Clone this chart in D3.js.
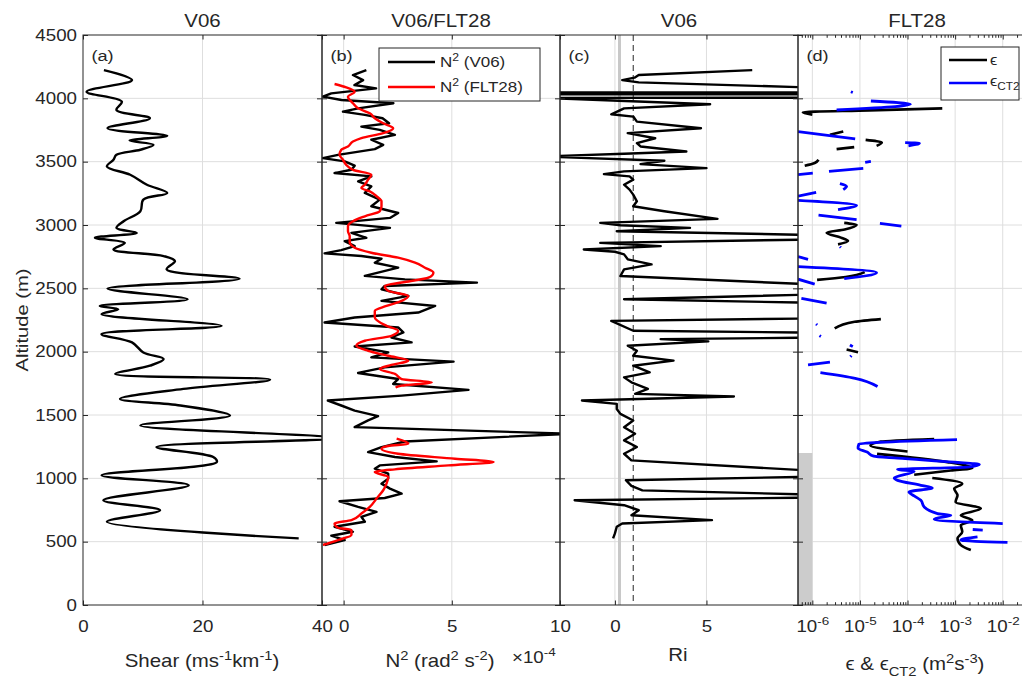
<!DOCTYPE html>
<html>
<head>
<meta charset="utf-8">
<script src="https://cdn.jsdelivr.net/npm/d3@7"></script>
<style>
  body { margin: 0; background: #fff; }
  svg { display: block; }
  text { font-family: "Liberation Sans", Arial, sans-serif; fill: #262626; }
</style>
</head>
<body>
<div id="chart"></div>
<script>
// altitude ticks (m)
const altTicks = [0, 500, 1000, 1500, 2000, 2500, 3000, 3500, 4000, 4500];

// (a) shear, [altitude m, ms-1 km-1]
const shear = [[4223,3.5],[4144,8.2],[4052,0.6],[3974,6.5],[3908,5.6],[3843,11.2],[3764,4.1],[3704,14.1],[3667,7.8],[3633,11.8],[3594,9.6],[3554,5.6],[3515,5.1],[3462,4.0],[3397,7.9],[3318,10.7],[3253,14.1],[3200,10.1],[3109,9.6],[3030,6.8],[2977,5.6],[2938,9.0],[2899,2.0],[2859,7.0],[2807,5.1],[2755,13.5],[2715,15.4],[2650,14.0],[2576,26.2],[2498,4.1],[2414,17.5],[2361,2.8],[2335,5.9],[2296,3.1],[2204,23.2],[2138,3.1],[2073,8.2],[1994,10.1],[1942,13.5],[1889,11.2],[1824,5.4],[1779,31.3],[1706,16.8],[1627,6.2],[1575,16.3],[1496,24.6],[1417,9.6],[1318,42],[1247,12.3],[1168,21.8],[1129,22.4],[1024,3.1],[945,17.7],[827,3.4],[748,12.9],[657,4.0],[526,36.1]];

// (b) N^2 in units of 1e-4 rad2 s-2
const n2V06 = [[4223,1.05],[4184,0.43],[4144,0.9],[4105,0.5],[4079,1.5],[4039,-0.57],[4013,-0.96],[3987,-0.1],[3961,2.3],[3921,0.67],[3895,-0.03],[3869,0.98],[3843,1.8],[3803,2.1],[3777,0.82],[3751,1.67],[3712,2.37],[3673,1.28],[3633,1.83],[3599,1.44],[3554,-0.26],[3528,-0.96],[3502,0.05],[3468,0.51],[3436,0.36],[3410,-0.42],[3384,1.28],[3345,0.67],[3305,1.28],[3253,0.98],[3200,1.67],[3148,1.28],[3095,2.52],[3056,2.14],[3017,-0.34],[2977,2.14],[2938,0.36],[2899,1.05],[2873,0.05],[2833,0.51],[2802,-0.11],[2776,-0.88],[2755,0.82],[2734,1.75],[2702,1.44],[2663,2.52],[2624,1.59],[2598,0.98],[2571,2.83],[2545,6.16],[2519,1.9],[2493,1.75],[2440,2.99],[2401,1.75],[2361,4.23],[2309,3.45],[2270,0.51],[2230,-0.88],[2191,2.52],[2152,2.76],[2112,2.21],[2073,3.14],[2041,0.51],[1994,2.06],[1955,1.28],[1921,5.08],[1876,1.9],[1832,0.67],[1784,2.52],[1745,2.29],[1698,5.77],[1653,2.68],[1614,-0.73],[1575,-0.11],[1535,0.51],[1491,1.59],[1457,1.13],[1404,0.51],[1352,10.5],[1291,2.83],[1247,1.75],[1207,1.13],[1168,2.37],[1134,4.3],[1102,1.67],[1076,1.44],[1037,2.06],[998,2.06],[958,1.75],[919,2.14],[879,2.68],[845,1.9],[819,-0.19],[774,0.67],[735,1.52],[696,0.82],[657,0.98],[618,-0.42],[578,0.43],[547,-0.57],[513,0.05],[474,-0.88]];
const n2Flt28 = [[4113,-0.42],[4087,0.12],[4052,0.51],[4013,0.2],[3961,0.43],[3921,0.67],[3882,1.21],[3843,1.44],[3803,1.83],[3764,2.29],[3725,1.83],[3686,0.82],[3659,0.43],[3620,0.2],[3594,-0.11],[3554,-0.19],[3515,-0.03],[3475,0.12],[3436,0.43],[3397,1.28],[3358,1.13],[3318,0.98],[3292,0.82],[3266,1.21],[3227,1.52],[3187,1.75],[3148,1.75],[3109,1.67],[3069,0.98],[3030,0.43],[2991,0.2],[2951,0.2],[2912,0.28],[2865,0.28],[2820,0.51],[2781,1.28],[2742,2.52],[2702,3.3],[2663,3.76],[2624,4.15],[2584,3.92],[2550,2.83],[2519,1.9],[2480,2.06],[2440,2.99],[2401,2.68],[2361,1.98],[2322,1.44],[2270,1.44],[2204,1.98],[2165,2.52],[2125,2.21],[2086,0.98],[2047,0.59],[2007,1.13],[1968,2.06],[1929,2.99],[1895,2.21],[1863,1.67],[1824,2.37],[1784,2.68],[1758,4.07],[1732,2.68],[1717,2.4],
  null,
  [1313,2.45],[1273,2.99],[1255,2.06],[1234,1.75],[1194,2.52],[1155,5.15],[1129,6.93],[1102,4.84],[1071,2.37],[1050,1.44],[1011,2.06],[958,1.98],[906,1.83],[840,1.52],[774,1.21],[722,0.82],[670,0.36],[644,-0.42],[610,-0.26],[592,0.36],[552,0.36],[513,-0.26],[474,-0.96]];

// (c) Richardson number
const ri = [[4223,7.5],[4184,1.3],[4163,1.07],[4144,0.4],[4126,1.3],[4080,12],[4047,300],[4045,-300],[4033,-300],[4031,300],[4006,300],[4004,-4],[3953,5.2],[3921,0.5],[3874,-0.2],[3856,1.0],[3816,1.2],[3764,4.7],[3725,0.7],[3685,2.2],[3646,1.2],[3620,1.4],[3580,3.9],[3562,0.5],[3541,-4],[3507,2.7],[3481,1.4],[3449,5.0],[3423,0.5],[3402,-0.6],[3384,0.8],[3358,1.0],[3318,0.5],[3279,0.8],[3240,1.0],[3187,1.2],[3148,1.0],[3109,2.7],[3048,5.6],[3017,-0.8],[2998,0.3],[2977,4.1],[2951,0.1],[2912,14],[2893,14],[2859,-0.8],[2833,2.5],[2807,-1.7],[2789,0],[2768,0.5],[2729,0.7],[2689,2.0],[2650,0.5],[2597,0.3],[2505,15],[2466,15],[2414,0.5],[2374,15],[2270,15],[2243,-0.2],[2165,1.0],[2144,15],[2117,15],[2099,2.5],[2081,5.1],[2047,0.7],[2007,1.2],[1968,1.0],[1929,3.2],[1889,1.0],[1837,1.9],[1797,0.5],[1758,0.9],[1706,1.8],[1667,1.1],[1646,6.5],[1614,-1.8],[1588,0.1],[1548,0.1],[1509,0.3],[1457,1.0],[1404,0.5],[1352,1.1],[1300,0.5],[1247,1.2],[1194,0.5],[1142,0.9],[1050,12],[1016,12],[985,0.6],[940,0.9],[905,1.5],[867,12],[850,12],[827,-2.2],[788,0.5],[748,1.3],[709,0.9],[670,5.3],[644,0.4],[618,0.1],[565,0],[526,-0.1]];
const riCrit = 0.25, riOne = 1;

// (d) log10 of dissipation rate (m2 s-3), null = gap
const epsLog = [[3921,-3.27],[3905,-4.8],[3890,-6.2],[3870,-6.0],null,
  [3738,-5.35],[3712,-5.63],null,
  [3672,-4.88],[3651,-4.54],[3625,-4.65],null,
  [3615,-5.12],[3599,-5.49],null,
  [3515,-5.87],[3490,-5.95],[3468,-6.16],null,
  [3017,-5.33],[3000,-5.07],[2965,-5.32],[2939,-5.7],[2900,-5.4],[2873,-5.25],[2847,-5.46],null,
  [2628,-4.9],[2590,-5.3],[2567,-5.9],null,
  [2257,-4.56],[2236,-5.11],[2184,-5.53],null,
  [2017,-5.28],[1996,-5.04],null,
  [1311,-3.44],[1290,-4.56],[1259,-4.78],[1212,-4.0],null,
  [1193,-4.64],[1128,-3.16],[1081,-2.64],[1062,-3.09],[1028,-3.86],null,
  [1002,-3.48],[958,-2.85],[919,-3.02],[866,-2.95],[814,-2.99],[761,-2.46],[709,-2.88],[669,-2.64],[630,-2.88],[578,-2.85],[525,-2.95],[473,-2.88],[434,-2.67]];
const epsCt2Log = [[4052,-5.19],[4046,-5.15],null,
  [3979,-4.77],[3953,-3.94],[3934,-4.26],[3908,-5.49],null,
  [3738,-6.3],[3680,-5.1],null,
  [3651,-4.05],[3646,-3.75],[3625,-3.98],null,
  [3502,-4.77],[3494,-4.89],null,
  [3447,-4.93],[3424,-5.65],null,
  [3410,-5.99],[3397,-6.3],null,
  [3327,-5.42],[3305,-5.28],[3279,-5.35],null,
  [3258,-5.92],[3227,-6.3],null,
  [3195,-6.3],[3156,-5.07],[3122,-5.46],null,
  [3078,-5.87],[3043,-5.07],null,
  [3012,-4.58],[2991,-4.13],null,
  [2829,-5.42],[2822,-5.4],null,
  [2750,-6.3],[2729,-6.09],null,
  [2671,-6.3],[2624,-4.65],[2577,-5.33],null,
  [2572,-6.3],[2533,-5.95],null,
  [2420,-6.23],[2383,-5.7],null,
  [2218,-5.92],[2211,-5.9],null,
  [2127,-5.85],[2120,-5.82],null,
  [2053,-5.21],[2040,-5.15],null,
  [1969,-5.18],[1960,-5.2],null,
  [1917,-5.63],[1896,-6.09],null,
  [1834,-5.83],[1789,-5.1],[1725,-4.63],null,
  [1306,-2.96],[1285,-4.56],[1272,-5.02],[1238,-5.04],[1207,-4.85],[1175,-4.71],[1159,-4.21],[1128,-3.02],[1110,-2.49],[1089,-2.74],[1070,-4.21],[1055,-3.86],[1002,-4.28],[984,-4.21],[945,-3.72],[924,-3.48],[892,-3.97],[861,-3.86],[827,-3.72],[774,-3.65],[722,-3.37],[709,-3.09],[677,-3.44],[643,-2.0],null,
  [596,-2.63],[591,-2.42],null,
  [538,-2.53],[512,-2.88],[494,-1.9]];
const noDataTop = 1200; // grey block in (d)

const W = 1022, H = 679;
const SX = 1.17; // figure text is rendered wider than Arial
const plotTop = 35, plotBottom = 605;

const svg = d3.select("#chart").append("svg").attr("width", W).attr("height", H);
const y = d3.scaleLinear().domain([0, 4500]).range([plotBottom, plotTop]);

const panels = [
  { id: "a", x: d3.scaleLinear().domain([0, 40]).range([83, 322]), ticks: [0, 20, 40], grid: [20], title: "V06" },
  { id: "b", x: d3.scaleLinear().domain([-1, 10]).range([322, 560]), ticks: [0, 5, 10], grid: [0, 5], title: "V06/FLT28" },
  { id: "c", x: d3.scaleLinear().domain([-3, 10]).range([560, 798]), ticks: [0, 5], grid: [0, 5], title: "V06" },
  { id: "d", x: d3.scaleLog().domain([5e-7, 5e-2]).range([798, 1036]), ticks: [1e-6, 1e-5, 1e-4, 1e-3, 1e-2], grid: [1e-6, 1e-5, 1e-4, 1e-3, 1e-2], title: "FLT28" },
];

function stretch(sel) {
  sel.each(function () {
    const t = d3.select(this);
    const x = +t.attr("x") || 0;
    t.attr("x", 0).attr("transform", `translate(${x},0) scale(${SX},1)`);
  });
}

function addText(parent, x, y0, parts, o = {}) {
  const size = o.size || 16;
  const g = parent.append("g")
    .attr("transform", `translate(${x},${y0})${o.rotate ? " rotate(-90)" : ""} scale(${SX},1)`);
  const t = g.append("text").attr("text-anchor", o.anchor || "middle").style("font-size", size + "px");
  let shift = 0;
  (typeof parts === "string" ? [[parts]] : parts).forEach(([s, k]) => {
    const target = k === "sup" ? -0.42 * size : k === "sub" ? 0.32 * size : 0;
    t.append("tspan").attr("dy", target - shift).style("font-size", k ? size * 0.72 + "px" : null).text(s);
    shift = target;
  });
  return t;
}

const defs = svg.append("defs");

panels.forEach((p) => {
  const [x0, x1] = p.x.range();
  defs.append("clipPath").attr("id", "clip-" + p.id)
    .append("rect").attr("x", x0).attr("y", plotTop).attr("width", x1 - x0).attr("height", plotBottom - plotTop);

  const g = svg.append("g");
  // grid
  g.selectAll(".hg").data(altTicks.slice(1, -1)).join("line")
    .attr("x1", x0).attr("x2", x1).attr("y1", (d) => y(d)).attr("y2", (d) => y(d))
    .attr("stroke", "#dedede").attr("stroke-width", 1);
  g.selectAll(".vg").data(p.grid).join("line")
    .attr("x1", (d) => p.x(d)).attr("x2", (d) => p.x(d)).attr("y1", plotTop).attr("y2", plotBottom)
    .attr("stroke", "#dedede").attr("stroke-width", 1);

  p.g = g.append("g").attr("clip-path", `url(#clip-${p.id})`);
});

const [pa, pb, pc, pd] = panels;
const lineOf = (xs, curve) => d3.line().defined((d) => d !== null).curve(curve)
  .x((d) => xs(d[1])).y((d) => y(d[0]));
const drawLine = (p, data, color, w, xs, curve = d3.curveMonotoneY) =>
  p.g.append("path").datum(data).attr("d", lineOf(xs || p.x, curve)).attr("fill", "none")
    .attr("stroke", color).attr("stroke-width", w).attr("stroke-linejoin", "round");

drawLine(pa, shear, "#000", 2.4, null, d3.curveCatmullRom.alpha(0.5));
drawLine(pb, n2V06, "#000", 2.4, null, d3.curveLinear);
drawLine(pb, n2Flt28, "#ff0000", 2.4);

pc.g.append("line").attr("x1", pc.x(riCrit)).attr("x2", pc.x(riCrit)).attr("y1", plotTop).attr("y2", plotBottom)
  .attr("stroke", "#c8c8c8").attr("stroke-width", 3);
pc.g.append("line").attr("x1", pc.x(riOne)).attr("x2", pc.x(riOne)).attr("y1", plotTop).attr("y2", plotBottom)
  .attr("stroke", "#262626").attr("stroke-width", 1).attr("stroke-dasharray", "6 4");
drawLine(pc, ri, "#000", 2.4, null, d3.curveLinear);

pd.g.append("rect").attr("x", pd.x(5e-7)).attr("width", pd.x(1e-6) - pd.x(5e-7))
  .attr("y", y(noDataTop)).attr("height", y(0) - y(noDataTop)).attr("fill", "#cccccc");
const logX = (v) => pd.x(Math.pow(10, v));
drawLine(pd, epsLog, "#000", 2.6, logX);
drawLine(pd, epsCt2Log, "#0000ff", 2.8, logX);

// axes and boxes
panels.forEach((p, i) => {
  const [x0, x1] = p.x.range();
  const fmt = p.id === "d" ? () => "" : d3.format("d");
  const bot = svg.append("g").attr("transform", `translate(0,${plotBottom})`)
    .call(d3.axisBottom(p.x).tickValues(p.ticks).tickFormat(fmt).tickSizeInner(-4.5).tickSizeOuter(0).tickPadding(15.6));
  svg.append("g").attr("transform", `translate(0,${plotTop})`)
    .call(d3.axisTop(p.x).tickValues(p.ticks).tickFormat("").tickSizeInner(-4.5).tickSizeOuter(0));
  if (p.id === "d") {
    const minors = [];
    for (let e = -7; e <= -2; e++) for (let k = 2; k <= 9; k++) {
      const v = k * Math.pow(10, e);
      if (v > 5e-7 && v < 5e-2) minors.push(v);
    }
    svg.append("g").attr("transform", `translate(0,${plotBottom})`)
      .call(d3.axisBottom(p.x).tickValues(minors).tickFormat("").tickSizeInner(-2.8).tickSizeOuter(0));
    svg.append("g").attr("transform", `translate(0,${plotTop})`)
      .call(d3.axisTop(p.x).tickValues(minors).tickFormat("").tickSizeInner(-2.8).tickSizeOuter(0));
    bot.selectAll(".tick text").each(function (d) {
      const t = d3.select(this).text("");
      t.append("tspan").text("10");
      t.append("tspan").attr("dy", -6.5).style("font-size", "11.5px").text(String(Math.round(Math.log10(d))));
    });
  }
  const left = svg.append("g").attr("transform", `translate(${x0},0)`)
    .call(d3.axisLeft(y).tickValues(altTicks).tickFormat(i === 0 ? d3.format("d") : () => "").tickSizeInner(-5).tickSizeOuter(0).tickPadding(6));
  svg.append("g").attr("transform", `translate(${x1},0)`)
    .call(d3.axisRight(y).tickValues(altTicks).tickFormat("").tickSizeInner(-5).tickSizeOuter(0));

  svg.selectAll(".domain").remove();
  svg.selectAll(".tick line").attr("stroke", "#262626");
  svg.selectAll(".tick text").style("font-size", "16px").attr("fill", "#262626").style("font-family", '"Liberation Sans", Arial, sans-serif');
  stretch(bot.selectAll(".tick text"));
  stretch(left.selectAll(".tick text"));

  svg.append("rect").attr("x", x0).attr("y", plotTop).attr("width", x1 - x0).attr("height", plotBottom - plotTop)
    .attr("fill", "none").attr("stroke", "#262626").attr("stroke-width", 1);

  addText(svg, (x0 + Math.min(x1, 1036)) / 2, 27, p.title, { size: 17.5 });
  addText(svg, x0 + 8.5, 61, `(${p.id})`, { anchor: "start", size: 15.5 });
});

// axis labels
addText(svg, 28, 320, "Altitude (m)", { rotate: true, size: 17.2 });
addText(svg, 202, 667, [["Shear (ms"], ["-1", "sup"], ["km"], ["-1", "sup"], [")"]], { size: 17.5 });
addText(svg, 440, 667, [["N"], ["2", "sup"], [" (rad"], ["2", "sup"], [" s"], ["-2", "sup"], [")"]], { size: 17.5 });
addText(svg, 512, 663, [["×10"], ["-4", "sup"]], { anchor: "start", size: 16 });
addText(svg, 678, 661, "Ri", { size: 17.5 });
addText(svg, 915, 670, [["ϵ & ϵ"], ["CT2", "sub"], [" (m"], ["2", "sup"], ["s"], ["-3", "sup"], [")"]], { size: 17.5 });

// legend (b)
const lb = svg.append("g");
lb.append("rect").attr("x", 379).attr("y", 48).attr("width", 161).attr("height", 53)
  .attr("fill", "#fff").attr("stroke", "#262626").attr("stroke-width", 1);
[["#000", "V06", 62], ["#ff0000", "FLT28", 87]].forEach(([c, name, yy]) => {
  lb.append("line").attr("x1", 388).attr("x2", 435).attr("y1", yy).attr("y2", yy).attr("stroke", c).attr("stroke-width", 2.4);
  addText(lb, 440, yy + 5, [["N"], ["2", "sup"], [` (${name})`]], { anchor: "start", size: 14.5 });
});

// legend (d)
const ld = svg.append("g");
ld.append("rect").attr("x", 941).attr("y", 47).attr("width", 78).attr("height", 53)
  .attr("fill", "#fff").attr("stroke", "#262626").attr("stroke-width", 1);
ld.append("line").attr("x1", 949).attr("x2", 987).attr("y1", 60).attr("y2", 60).attr("stroke", "#000").attr("stroke-width", 2.4);
ld.append("line").attr("x1", 949).attr("x2", 987).attr("y1", 83).attr("y2", 83).attr("stroke", "#0000ff").attr("stroke-width", 2.4);
addText(ld, 990, 65, "ϵ", { anchor: "start", size: 14 });
addText(ld, 990, 86, [["ϵ"], ["CT2", "sub"]], { anchor: "start", size: 14 });
</script>
</body>
</html>
